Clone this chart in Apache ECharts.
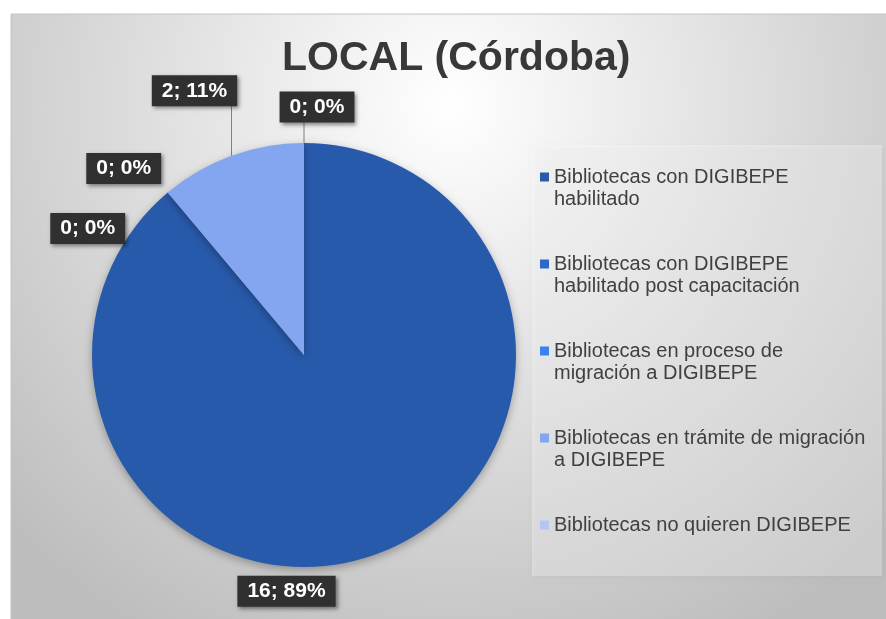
<!DOCTYPE html>
<html>
<head>
<meta charset="utf-8">
<script src="https://cdn.jsdelivr.net/npm/echarts@6/dist/echarts.min.js"></script>
<style>
  html, body { margin: 0; padding: 0; background: #fff; }
  #chart { width: 886px; height: 619px; }
</style>
</head>
<body>
<div id="chart"></div>
<script>
// datos
const categories = [
  'Bibliotecas con DIGIBEPE\nhabilitado',
  'Bibliotecas con DIGIBEPE\nhabilitado post capacitación',
  'Bibliotecas en proceso de\nmigración a DIGIBEPE',
  'Bibliotecas en trámite de migración\na DIGIBEPE',
  'Bibliotecas no quieren DIGIBEPE'
];
const values = [16, 0, 0, 2, 0];
const colors = ['#285AAB', '#2F67C9', '#3C82EE', '#84A5EF', '#B4C6F5'];
const titleText = 'LOCAL (Córdoba)';

// geometría del pie
const CX = 304, CY = 355, R = 212;
// desplazamiento de cada etiqueta respecto al borde del sector (como Excel "ajuste óptimo")
const labelOffsets = [[-90, 37], [-80, 36], [-44, -24], [-37, -65], [13, -36]];
const withLine = [false, false, false, true, true];

const total = values.reduce((a, b) => a + b, 0);
const anchors = [];
let acc = 0;
values.forEach(v => {
  const mid = (acc + v / 2) / total * 2 * Math.PI;
  anchors.push([CX + R * Math.sin(mid), CY - R * Math.cos(mid)]);
  acc += v;
});

// leyenda: primera línea alineada con el cuadrado (bloque de 3 líneas centrado)
function legendText(n) {
  return ' \n' + (n.includes('\n') ? n : n + '\n ');
}

const chart = echarts.init(document.getElementById('chart'), null, { renderer: 'canvas' });

chart.setOption({
  backgroundColor: '#ffffff',
  color: colors,
  animation: false,
  graphic: [
    {
      type: 'rect', z: -10, silent: true,
      shape: { x: 11, y: 14, width: 880, height: 610 },
      style: {
        fill: new echarts.graphic.RadialGradient(0.5, 0.15, 1.0, [
          { offset: 0, color: '#ffffff' },
          { offset: 1, color: '#bdbdbd' }
        ]),
        stroke: '#c4c4c4', lineWidth: 1
      }
    },
    {
      type: 'rect', z: -5, silent: true,
      shape: { x: 532, y: 145, width: 350, height: 431 },
      style: {
        fill: 'rgba(255,255,255,0.3)',
        shadowColor: 'rgba(0,0,0,0.12)', shadowBlur: 4, shadowOffsetX: 2, shadowOffsetY: 2
      }
    }
  ],
  title: {
    text: titleText,
    left: 282, top: 38, padding: 0,
    textStyle: { fontFamily: 'Liberation Sans, Arial', fontSize: 41, fontWeight: 'bold', color: '#383838' }
  },
  legend: {
    orient: 'vertical',
    left: 540, top: 144, padding: 0,
    itemGap: 21,
    itemWidth: 9, itemHeight: 9,
    icon: 'rect',
    selectedMode: false,
    data: categories,
    formatter: legendText,
    textStyle: {
      fontFamily: 'Liberation Sans, Arial', fontSize: 20, lineHeight: 22,
      color: '#404040'
    }
  },
  series: [{
    type: 'pie',
    center: [CX, CY],
    radius: R,
    startAngle: 90,
    clockwise: true,
    avoidLabelOverlap: false,
    percentPrecision: 0,
    itemStyle: {
      shadowColor: 'rgba(0,0,0,0.3)', shadowBlur: 8, shadowOffsetY: 3
    },
    label: {
      show: true,
      formatter: '{c}; {d}%',
      fontFamily: 'Liberation Sans, Arial', fontSize: 21, fontWeight: 'bold',
      color: '#ffffff', lineHeight: 22,
      backgroundColor: '#303030',
      padding: [5, 10, 4, 10],
      shadowColor: 'rgba(0,0,0,0.45)', shadowBlur: 4, shadowOffsetX: 2, shadowOffsetY: 2
    },
    labelLine: { show: true, lineStyle: { color: '#808080', width: 1 } },
    labelLayout: p => {
      const i = p.dataIndex;
      const a = anchors[i];
      const x = a[0] + labelOffsets[i][0];
      const y = a[1] + labelOffsets[i][1];
      const out = { x, y, align: 'center', verticalAlign: 'middle' };
      if (withLine[i]) out.labelLinePoints = [[a[0], a[1]], [a[0], y + p.labelRect.height / 2], [a[0], y + p.labelRect.height / 2]];
      return out;
    },
    data: categories.map((c, i) => ({
      name: c, value: values[i],
      labelLine: { show: withLine[i] }
    }))
  }]
});
</script>
</body>
</html>
